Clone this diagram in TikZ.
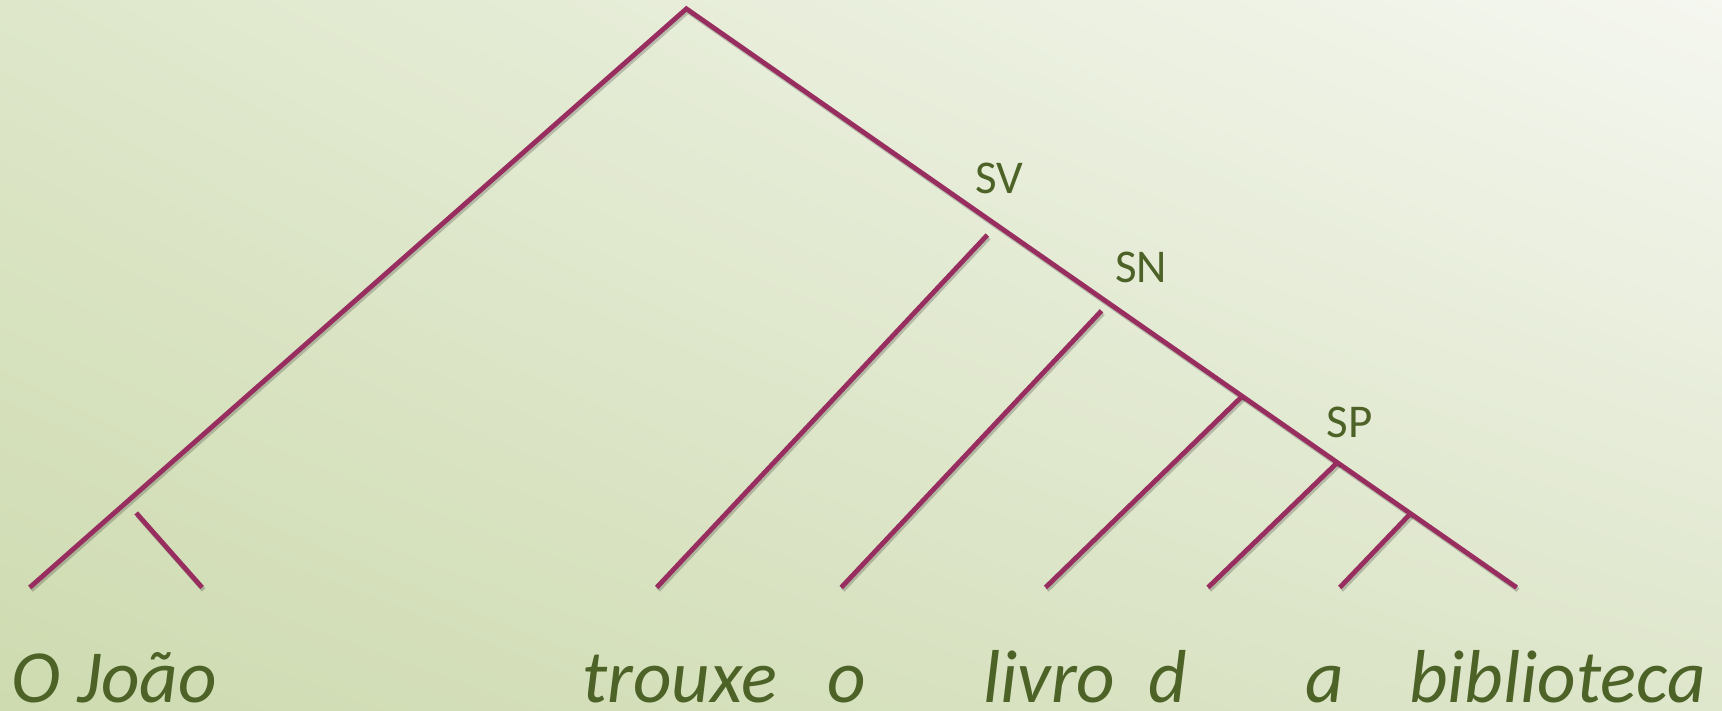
\documentclass[tikz,border=0pt]{standalone}
\usepackage{fontspec}
\setmainfont{Carlito}
\usetikzlibrary{shadings}
\definecolor{branchcol}{RGB}{152,46,96}
\definecolor{textcol}{RGB}{76,98,38}
\definecolor{bgll}{RGB}{206,219,176}
\definecolor{bgul}{RGB}{222,231,202}
\definecolor{bglr}{RGB}{222,230,203}
\definecolor{bgur}{RGB}{245,247,240}
\begin{document}
\begin{tikzpicture}[x=1pt,y=-1pt,
  branch/.style={draw=branchcol,line width=4.8pt,
    preaction={draw=black,opacity=0.2,line width=4.8pt,transform canvas={shift={(1.5pt,-2.5pt)}}}},
  word/.style={anchor=base west,inner sep=0pt,text=textcol,font=\fontsize{75}{78}\selectfont\itshape},
  cat/.style={inner sep=0pt,text=textcol,font=\fontsize{47}{50}\selectfont}]
\useasboundingbox (0,0) rectangle (1722,711);
\shade[lower left=bgll,upper left=bgul,lower right=bglr,upper right=bgur] (0,711) rectangle (1722,0);
% tree points
\coordinate (A) at (686.4,8.8);
\coordinate (L) at (29.7,587.5);
\coordinate (R) at (1516.6,587.5);
\coordinate (J1) at (136.2,512.9);
\coordinate (J2) at (202.1,587.5);
\coordinate (V1) at (987.3,235);
\coordinate (V2) at (656.7,587.5);
\coordinate (N1) at (1101.5,310.8);
\coordinate (N2) at (841.2,587.5);
\coordinate (P1) at (1242.1,396.4);
\coordinate (P2) at (1045.5,587.5);
\coordinate (Q1) at (1337.6,462.3);
\coordinate (Q2) at (1208,587.5);
\coordinate (S1) at (1410.1,514);
\coordinate (S2) at (1339.8,587.5);
\path[branch] (L) -- (A) -- (R);
\path[branch] (J1) -- (J2);
\path[branch] (V1) -- (V2);
\path[branch] (N1) -- (N2);
\path[branch] (P1) -- (P2);
\path[branch] (Q1) -- (Q2);
\path[branch] (S1) -- (S2);
% category labels
\node[cat] (sv) at (999.4,178) {SV};
\node[cat] (sn) at (1141,267) {SN};
\node[cat] (sp) at (1349.7,422.8) {SP};
% words
\node[word] (w1) at (11,702) {O João};
\node[word] (w2) at (582,702) {trouxe};
\node[word] (w3) at (827,702) {o};
\node[word] (w4) at (983,702) {livro};
\node[word] (w5) at (1148,702) {d};
\node[word] (w6) at (1305,702) {a};
\node[word] (w7) at (1409,702) {biblioteca};
\end{tikzpicture}
\end{document}
